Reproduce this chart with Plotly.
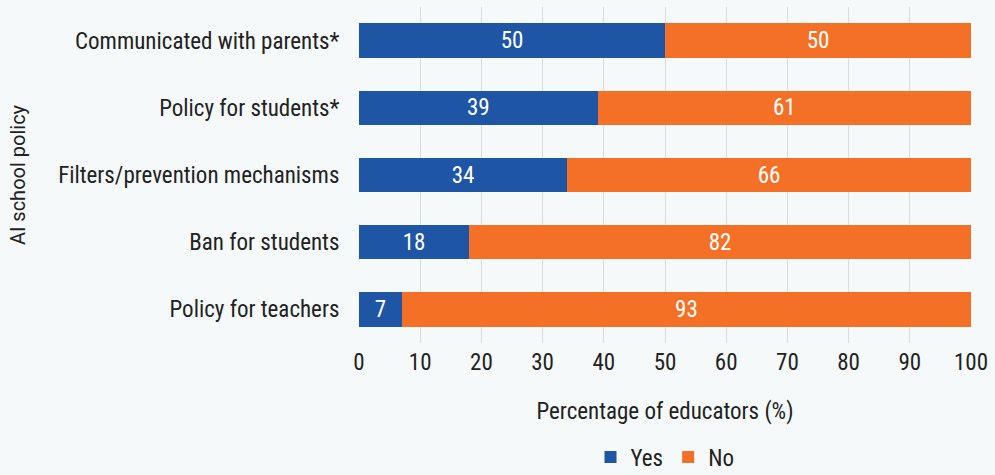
import plotly.graph_objects as go

categories = [
    "Policy for teachers",
    "Ban for students",
    "Filters/prevention mechanisms",
    "Policy for students*",
    "Communicated with parents*",
]
yes_values = [7, 18, 34, 39, 50]
no_values = [93, 82, 66, 61, 50]

FONT = "Roboto Condensed, Liberation Sans Narrow, DejaVu Sans Condensed, sans-serif"
BLUE = "#1f55a5"
ORANGE = "#f47027"
BG = "#f5f9fa"
SIZE = 23

fig = go.Figure()
fig.add_trace(go.Bar(
    y=categories, x=yes_values, name="Yes", orientation="h",
    marker=dict(color=BLUE, line=dict(width=0)),
    text=[str(v) for v in yes_values], textposition="inside",
    insidetextanchor="middle",
    textfont=dict(color="white", size=SIZE, family=FONT),
))
fig.add_trace(go.Bar(
    y=categories, x=no_values, name="No", orientation="h",
    marker=dict(color=ORANGE, line=dict(width=0)),
    text=[str(v) for v in no_values], textposition="inside",
    insidetextanchor="middle",
    textfont=dict(color="white", size=SIZE, family=FONT),
))

fig.update_layout(
    barmode="stack",
    bargap=0.49,
    width=995, height=475,
    margin=dict(l=359, r=24, t=7, b=132, autoexpand=False),
    paper_bgcolor=BG, plot_bgcolor=BG,
    font=dict(family=FONT, size=SIZE, color="#222222"),
    uniformtext=dict(mode="show", minsize=10),
    legend=dict(
        orientation="h", x=0.5, xanchor="center",
        yref="container", y=18 / 475, yanchor="middle",
        font=dict(size=SIZE, family=FONT), traceorder="normal",
        itemwidth=30,
    ),
    xaxis=dict(
        range=[0, 100], dtick=10, tick0=0,
        showgrid=True, gridcolor="#d9dcde", gridwidth=1,
        zeroline=False, showline=False,
        ticks="", tickfont=dict(size=SIZE, family=FONT),
        ticklabelstandoff=3,
        title=dict(text="Percentage of educators (%)", font=dict(size=SIZE, family=FONT), standoff=27),
        automargin=False,
        fixedrange=True,
    ),
    yaxis=dict(
        showgrid=False, zeroline=False, showline=False,
        ticks="outside", ticklen=14, tickcolor=BG,
        tickfont=dict(size=SIZE, family=FONT),
        automargin=False,
        fixedrange=True,
    ),
    annotations=[dict(
        text="AI school policy", xref="paper", yref="paper",
        x=-0.557, y=0.5, xanchor="center", yanchor="middle",
        textangle=-90, showarrow=False,
        font=dict(size=20, family="Roboto, sans-serif", color="#222222"),
    )],
)

fig.write_html("out.html")
